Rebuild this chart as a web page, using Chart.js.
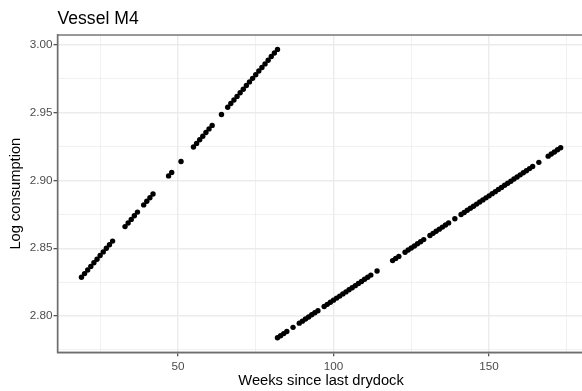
<!DOCTYPE html>
<html>
<head>
<meta charset="utf-8">
<title>Vessel M4</title>
<script src="https://cdn.jsdelivr.net/npm/chart.js@4/dist/chart.umd.min.js"></script>
<style>
  html, body { margin: 0; padding: 0; background: #ffffff; overflow: hidden; }
  #wrap { width: 590px; height: 391px; position: relative; }
</style>
</head>
<body>
<div id="wrap"><canvas id="chart"></canvas></div>
<script>
// Weeks since the last drydock, before the second drydock
const weeksA = [19,20,21,22,23,24,25,26,27,28,29,
                33,34,35,36,37,39,40,41,42,
                47,48,51,
                55,56,57,58,59,60,61,64,
                66,67,68,69,70,71,72,73,74,75,76,77,78,79,80,81,82];
const logA = [2.8286,2.8313,2.8339,2.8366,2.8393,2.8419,2.8446,2.8473,2.8500,2.8526,2.8553,
              2.8660,2.8686,2.8713,2.8740,2.8767,2.8820,2.8847,2.8873,2.8900,
              2.9034,2.9060,2.9140,
              2.9247,2.9274,2.9301,2.9327,2.9354,2.9381,2.9407,2.9487,
              2.9541,2.9568,2.9594,2.9621,2.9648,2.9674,2.9701,2.9728,2.9754,2.9781,2.9808,2.9834,2.9861,2.9888,2.9915,2.9941,2.9968];

// Weeks since the last drydock, later period
const weeksB = [82,83,84,85,87,
                89,90,91,92,93,94,95,
                97,98,99,100,101,102,103,104,105,106,107,108,109,110,111,112,114,
                119,120,121,123,124,125,126,127,128,129,
                131,132,133,134,135,136,137,139,
                141,142,143,144,145,146,147,148,149,150,151,152,153,154,155,156,157,158,159,160,161,162,163,164,
                166,169,170,171,172,173];
const logB = [2.7839,2.7854,2.7870,2.7885,2.7916,
              2.7947,2.7962,2.7978,2.7993,2.8009,2.8024,2.8039,
              2.8070,2.8086,2.8101,2.8117,2.8132,2.8147,2.8163,2.8178,2.8194,2.8209,2.8224,2.8240,2.8255,2.8271,2.8286,2.8302,2.8332,
              2.8409,2.8425,2.8440,2.8471,2.8487,2.8502,2.8517,2.8533,2.8548,2.8564,
              2.8594,2.8610,2.8625,2.8641,2.8656,2.8672,2.8687,2.8718,
              2.8749,2.8764,2.8780,2.8795,2.8810,2.8826,2.8841,2.8857,2.8872,2.8887,2.8903,2.8918,2.8934,2.8949,2.8965,2.8980,2.8995,2.9011,2.9026,2.9042,2.9057,2.9072,2.9088,2.9103,
              2.9134,2.9180,2.9196,2.9211,2.9227,2.9242];

// Labelled (major) ticks; the others are minor grid lines
const xMajorTicks = [50, 100, 150];
const yMajorTicks = ['2.80', '2.85', '2.90', '2.95', '3.00'];

const toPoints = (xs, ys) => xs.map((x, i) => ({ x: x, y: ys[i] }));

const GRID = '#ebebeb';
const INK = '#333333';
const FRAME = '#6e6e6e';

const isMajorX = v => xMajorTicks.includes(Math.round(v));
const yLabel = v => (Math.round(v * 1000) / 1000).toFixed(2);
const isMajorY = v => yMajorTicks.includes(yLabel(v)) && Math.abs(Math.round(v * 1000) % 50) === 0;

// Outline around the whole panel (top and right sides included)
const panelFrame = {
  id: 'panelFrame',
  afterDatasetsDraw(chart) {
    const { ctx, chartArea: a } = chart;
    ctx.save();
    ctx.strokeStyle = FRAME;
    ctx.lineWidth = 1.4;
    ctx.strokeRect(a.left, a.top, a.right - a.left, a.bottom - a.top);
    ctx.restore();
  }
};

const pointStyle = {
  backgroundColor: '#000000',
  borderWidth: 0,
  pointRadius: 2.7,
  pointHoverRadius: 2.7,
  showLine: false
};

new Chart(document.getElementById('chart'), {
  type: 'scatter',
  data: {
    datasets: [
      Object.assign({ label: 'Before', data: toPoints(weeksA, logA) }, pointStyle),
      Object.assign({ label: 'After', data: toPoints(weeksB, logB) }, pointStyle)
    ]
  },
  options: {
    responsive: true,
    maintainAspectRatio: false,
    devicePixelRatio: 1,
    animation: false,
    events: [],
    layout: { padding: { left: 0, right: 5.4, top: 0, bottom: 0 } },
    plugins: {
      legend: { display: false },
      tooltip: { enabled: false },
      title: {
        display: true,
        text: 'Vessel M4',
        align: 'start',
        fullSize: false,
        color: '#000000',
        font: { family: '"Liberation Sans", Arial, sans-serif', size: 17.6, weight: 'normal' },
        padding: { top: 8.4, bottom: 5.5 }
      }
    },
    scales: {
      x: {
        type: 'linear',
        min: 11.3,
        max: 180.7,
        afterFit: s => { s.height = 38.7; },
        border: { display: true, color: FRAME, width: 1.4 },
        grid: {
          color: GRID,
          lineWidth: c => (c.tick && isMajorX(c.tick.value)) ? 1.4 : 0.7,
          tickColor: c => (c.tick && isMajorX(c.tick.value)) ? INK : 'rgba(0,0,0,0)',
          tickLength: 4,
          tickWidth: 1.1
        },
        ticks: {
          stepSize: 25,
          includeBounds: false,
          autoSkip: false,
          maxRotation: 0,
          padding: 3.5,
          color: '#4d4d4d',
          font: { family: '"Liberation Sans", Arial, sans-serif', size: 11.7 },
          callback: v => isMajorX(v) ? String(Math.round(v)) : ''
        },
        title: {
          display: true,
          text: 'Weeks since last drydock',
          color: '#000000',
          font: { family: '"Liberation Sans", Arial, sans-serif', size: 14.7 },
          padding: { top: 0, bottom: 0.8 }
        }
      },
      y: {
        type: 'linear',
        min: 2.7732,
        max: 3.0074,
        afterFit: s => { s.width = 57.5; },
        border: { display: true, color: FRAME, width: 1.4 },
        grid: {
          color: GRID,
          lineWidth: c => (c.tick && isMajorY(c.tick.value)) ? 1.4 : 0.7,
          tickColor: c => (c.tick && isMajorY(c.tick.value)) ? INK : 'rgba(0,0,0,0)',
          tickLength: 4,
          tickWidth: 1.1
        },
        ticks: {
          stepSize: 0.025,
          includeBounds: false,
          autoSkip: false,
          padding: 1,
          color: '#4d4d4d',
          font: { family: '"Liberation Sans", Arial, sans-serif', size: 11.7 },
          callback: v => isMajorY(v) ? yLabel(v) : ''
        },
        title: {
          display: true,
          text: 'Log consumption',
          color: '#000000',
          font: { family: '"Liberation Sans", Arial, sans-serif', size: 14.7 },
          padding: { top: 7, bottom: 0 }
        }
      }
    }
  },
  plugins: [panelFrame]
});
</script>
</body>
</html>
